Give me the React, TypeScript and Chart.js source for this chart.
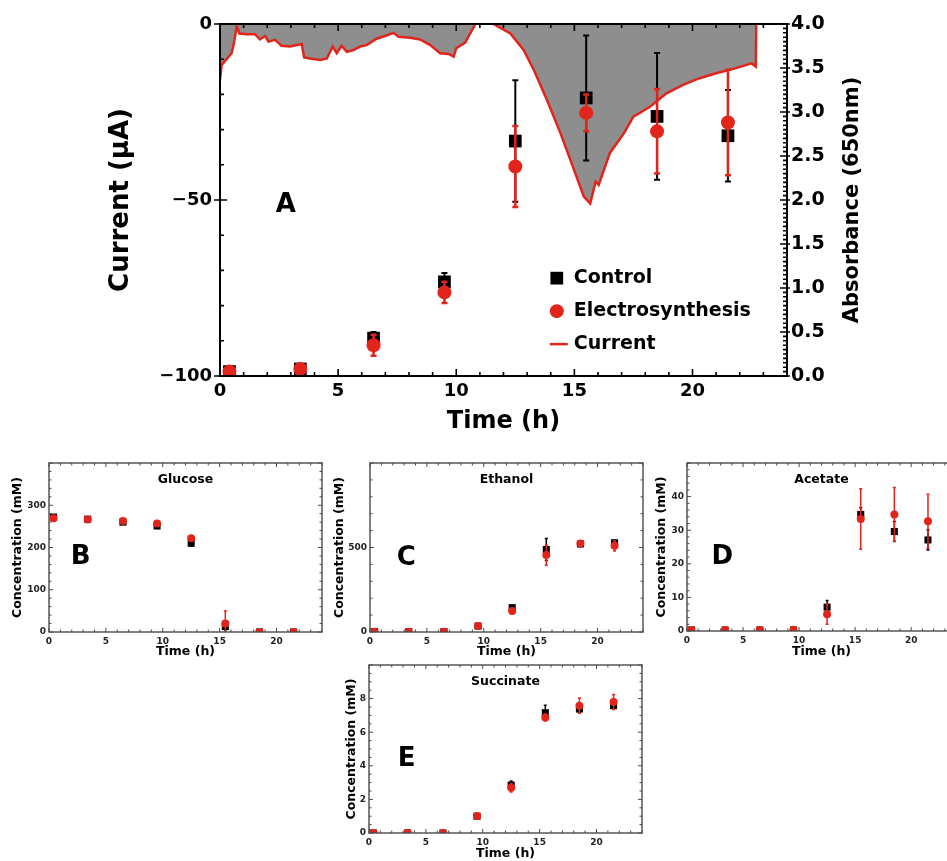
import React, { useEffect, useRef } from 'react';
import { Chart, registerables } from 'chart.js';

Chart.register(...registerables);

const FONT = "'DejaVu Sans', 'Liberation Sans', sans-serif";
const RED = '#e3241b';
const BLACK = '#000000';
const FILL_GRAY = '#8e8e8e';

// ---------- data ----------
const sampleTimes = [0.4, 3.4, 6.5, 9.5, 12.5, 15.5, 18.5, 21.5];
const timeTicks = [0, 5, 10, 15, 20];

// Panel A: current trace (µA)
const currentTime = [0, 0.07, 0.28, 0.49, 0.59, 0.71, 0.82, 1.13, 1.48, 1.69, 1.91, 2.05, 2.33, 2.61, 2.97, 3.46, 3.56, 3.81, 4.24, 4.52, 4.77, 4.94, 5.15, 5.37, 5.65, 5.93, 6.21, 6.64, 6.99, 7.34, 7.56, 8.05, 8.47, 8.9, 9.32, 9.68, 9.89, 10.0, 10.38, 10.81, 11.1, 11.4, 11.58, 12.29, 12.85, 13.28, 13.84, 14.41, 14.83, 15.4, 15.67, 15.9, 16.03, 16.5, 17.1, 17.5, 18.2, 18.9, 19.6, 20.3, 21.0, 21.8, 22.5, 22.68, 22.7];
const currentValue = [-16, -11.6, -10, -8.3, -5.5, -0.6, -2.7, -2.9, -2.9, -4.4, -3.4, -5, -4.5, -6.2, -6.4, -5.7, -9.5, -9.8, -10.2, -9.8, -6.4, -8.3, -6.2, -7.9, -7.4, -6.4, -6, -4.1, -3.4, -2.5, -3.6, -3.9, -4.4, -6, -8.3, -8.5, -9.3, -6.9, -5.3, 0, 1.5, 1.5, 0, -2.7, -7.4, -13, -21.6, -31, -38.6, -49, -51, -44.8, -45.7, -36.7, -31, -26.3, -23.5, -19.7, -17.3, -15.4, -14, -12.6, -11.2, -12.1, 0];
const currentTicks = [-100, -50, 0];

// Panel A: absorbance (650 nm)
const absControl = [0.05, 0.08, 0.43, 1.07, 2.67, 3.16, 2.95, 2.73];
const absControlErr = [0.02, 0.02, 0.07, 0.1, 0.69, 0.71, 0.72, 0.52];
const absElectro = [0.05, 0.08, 0.35, 0.95, 2.38, 2.99, 2.78, 2.88];
const absElectroErr = [0.02, 0.02, 0.12, 0.12, 0.46, 0.21, 0.48, 0.6];
const absTicks = [0, 0.5, 1, 1.5, 2, 2.5, 3, 3.5, 4];

// Panel B: glucose (mM)
const glucoseControl = [272, 267, 260, 251, 210, 13, 0, 0];
const glucoseControlErr = [4, 3, 4, 6, 6, 8, 1, 1];
const glucoseElectro = [269, 266, 263, 257, 222, 20, 0, 0];
const glucoseElectroErr = [4, 3, 4, 6, 5, 30, 1, 1];
const glucoseTicks = [0, 100, 200, 300];

// Panel C: ethanol (mM)
const ethanolControl = [2, 2, 2, 35, 144, 488, 521, 528];
const ethanolControlErr = [2, 2, 2, 5, 12, 65, 15, 15];
const ethanolElectro = [2, 2, 2, 36, 125, 455, 524, 510];
const ethanolElectroErr = [2, 2, 2, 5, 15, 60, 15, 30];
const ethanolTicks = [0, 500];

// Panel D: acetate (mM)
const acetateControl = [0.3, 0.3, 0.3, 0.3, 7.1, 34.7, 29.6, 27.1];
const acetateControlErr = [0.1, 0.1, 0.1, 0.1, 2, 2, 3, 3];
const acetateElectro = [0.3, 0.3, 0.3, 0.4, 5.0, 33.3, 34.7, 32.7];
const acetateElectroErr = [0.1, 0.1, 0.1, 0.1, 3, 9, 8, 8];
const acetateTicks = [0, 10, 20, 30, 40];

// Panel E: succinate (mM)
const succinateControl = [0, 0, 0, 1.0, 2.85, 7.16, 7.38, 7.58];
const succinateControlErr = [0.02, 0.02, 0.02, 0.08, 0.25, 0.45, 0.2, 0.2];
const succinateElectro = [0, 0, 0, 1.01, 2.69, 6.87, 7.58, 7.8];
const succinateElectroErr = [0.02, 0.02, 0.02, 0.08, 0.25, 0.2, 0.45, 0.45];
const succinateTicks = [0, 2, 4, 6, 8];

// ---------- helpers ----------
const pts = (xs: number[], ys: number[]) => xs.map((x, i) => ({ x, y: ys[i] }));
const fixedTicks = (vals: number[]) => (scale: any) => {
  scale.ticks = vals.map((v) => ({ value: v }));
};
const minusFmt = (v: any) => (Number(v) < 0 ? '\u2212' + Math.abs(Number(v)) : String(v));

// ---------- plugins ----------
const errorBarsPlugin = {
  id: 'errorBars',
  beforeDatasetDraw(chart: any, args: any) {
    const ds = chart.data.datasets[args.index];
    if (!ds.errors) return;
    const meta = args.meta;
    const xs = chart.scales[meta.xAxisID];
    const ys = chart.scales[meta.yAxisID];
    const ctx = chart.ctx;
    const a = chart.chartArea;
    ctx.save();
    ctx.beginPath();
    ctx.rect(a.left, a.top, a.right - a.left, a.bottom - a.top);
    ctx.clip();
    ctx.strokeStyle = ds.errorColor;
    ctx.lineWidth = ds.errorWidth;
    ctx.beginPath();
    ds.data.forEach((p: any, i: number) => {
      const e = ds.errors[i];
      if (!e) return;
      const x = xs.getPixelForValue(p.x);
      const lo = ys.getPixelForValue(p.y - e);
      const hi = ys.getPixelForValue(p.y + e);
      const c = ds.errorCap;
      ctx.moveTo(x, lo);
      ctx.lineTo(x, hi);
      ctx.moveTo(x - c, lo);
      ctx.lineTo(x + c, lo);
      ctx.moveTo(x - c, hi);
      ctx.lineTo(x + c, hi);
    });
    ctx.stroke();
    ctx.restore();
  },
};

function eachStep(scale: any, minor: number, major: number, cb: (p: number, isMajor: boolean) => void) {
  const n = Math.floor((scale.max - scale.min) / minor + 1e-6);
  for (let i = 0; i <= n; i++) {
    const v = scale.min + i * minor;
    const r = v / major;
    cb(scale.getPixelForValue(v), Math.abs(r - Math.round(r)) < 1e-6);
  }
}

const framePlugin = {
  id: 'frame',
  afterDatasetsDraw(chart: any, _args: any, o: any) {
    if (!o || !o.enabled) return;
    const { ctx, chartArea: a } = chart;
    ctx.save();
    ctx.strokeStyle = o.color;
    ctx.lineWidth = o.tickWidth;
    ctx.beginPath();
    eachStep(chart.scales.x, o.xMinor, o.xMajor, (px, maj) => {
      const L = maj ? o.majorLen : o.minorLen;
      ctx.moveTo(px, a.bottom);
      ctx.lineTo(px, a.bottom - L);
      ctx.moveTo(px, a.top);
      ctx.lineTo(px, a.top + L);
    });
    eachStep(chart.scales.y, o.leftMinor, o.leftMajor, (py, maj) => {
      const L = maj ? o.majorLen : o.minorLen;
      ctx.moveTo(a.left, py);
      ctx.lineTo(a.left + L, py);
      if (maj && o.outLen) {
        ctx.moveTo(a.left, py);
        ctx.lineTo(a.left - o.outLen, py);
      }
    });
    const rs = chart.scales[o.rightId];
    eachStep(rs, o.rightMinor, o.rightMajor, (py, maj) => {
      const L = maj ? o.majorLen : o.minorLen;
      ctx.moveTo(a.right, py);
      ctx.lineTo(a.right - L, py);
      if (maj && o.outLenRight) {
        ctx.moveTo(a.right, py);
        ctx.lineTo(a.right + o.outLenRight, py);
      }
    });
    ctx.stroke();
    ctx.lineWidth = o.width;
    ctx.strokeRect(a.left, a.top, a.right - a.left, a.bottom - a.top);
    ctx.restore();
  },
};

const annotatePlugin = {
  id: 'annotate',
  afterDraw(chart: any, _args: any, o: any) {
    if (!o) return;
    const { ctx, chartArea: a } = chart;
    const W = a.right - a.left;
    const H = a.bottom - a.top;
    const texts = o.texts || [];
    for (let i = 0; i < texts.length; i++) {
      const t = texts[i];
      ctx.save();
      ctx.font = t.font;
      ctx.fillStyle = t.color || '#000';
      ctx.textAlign = 'center';
      ctx.textBaseline = 'middle';
      ctx.translate(a.left + t.fx * W, a.top + t.fy * H);
      if (t.rotation) ctx.rotate((t.rotation * Math.PI) / 180);
      ctx.fillText(t.text, 0, 0);
      ctx.restore();
    }
    const L = o.legend;
    if (L) {
      const x = a.left + L.fx * W;
      let y = a.top + L.fy * H;
      chart.data.datasets.forEach((ds: any) => {
        ctx.save();
        if (ds.showLine !== false) {
          ctx.strokeStyle = ds.borderColor;
          ctx.lineWidth = ds.borderWidth;
          ctx.beginPath();
          ctx.moveTo(x + L.lineFrom, y);
          ctx.lineTo(x + L.lineTo, y);
          ctx.stroke();
        } else if (ds.pointStyle === 'rect') {
          const s = ds.pointRadius * Math.SQRT1_2;
          ctx.fillStyle = ds.pointBackgroundColor;
          ctx.fillRect(x - s, y - s, 2 * s, 2 * s);
        } else {
          ctx.fillStyle = ds.pointBackgroundColor;
          ctx.beginPath();
          ctx.arc(x, y, ds.pointRadius, 0, Math.PI * 2);
          ctx.fill();
        }
        ctx.font = L.font;
        ctx.fillStyle = '#000';
        ctx.textAlign = 'left';
        ctx.textBaseline = 'middle';
        ctx.fillText(ds.label, x + L.textGap, y);
        ctx.restore();
        y += L.rowGap;
      });
    }
  },
};

Chart.register(errorBarsPlugin as any, framePlugin as any, annotatePlugin as any);

// ---------- panel A ----------
function makeConfigA(): any {
  const tickFont = { family: FONT, size: 18, weight: 'bold' as const };
  return {
    type: 'line',
    data: {
      datasets: [
        {
          label: 'Control',
          data: pts(sampleTimes, absControl),
          yAxisID: 'y1',
          showLine: false,
          pointStyle: 'rect',
          pointRadius: 9,
          pointBackgroundColor: BLACK,
          pointBorderColor: BLACK,
          pointBorderWidth: 0,
          order: 1,
          errors: absControlErr,
          errorColor: BLACK,
          errorWidth: 2,
          errorCap: 3,
        },
        {
          label: 'Electrosynthesis',
          data: pts(sampleTimes, absElectro),
          yAxisID: 'y1',
          showLine: false,
          pointStyle: 'circle',
          pointRadius: 7,
          pointBackgroundColor: RED,
          pointBorderColor: RED,
          pointBorderWidth: 0,
          order: 0,
          errors: absElectroErr,
          errorColor: RED,
          errorWidth: 2.5,
          errorCap: 3,
        },
        {
          label: 'Current',
          data: pts(currentTime, currentValue),
          yAxisID: 'y',
          showLine: true,
          borderColor: RED,
          borderWidth: 2.5,
          backgroundColor: FILL_GRAY,
          fill: { value: 0 },
          pointRadius: 0,
          tension: 0,
          order: 2,
        },
      ],
    },
    options: {
      responsive: false,
      animation: false,
      layout: { padding: { top: 24, left: 0, right: 0, bottom: 0 } },
      plugins: {
        legend: { display: false },
        tooltip: { enabled: false },
        frame: {
          enabled: true,
          color: BLACK,
          width: 2,
          tickWidth: 1.6,
          majorLen: 7,
          minorLen: 4,
          outLen: 6,
          outLenRight: 3,
          xMinor: 1,
          xMajor: 5,
          leftMinor: 10,
          leftMajor: 50,
          rightId: 'y1',
          rightMinor: 0.05,
          rightMajor: 0.5,
        },
        annotate: {
          texts: [
            { text: 'A', fx: 0.116, fy: 0.514, font: `bold 26px ${FONT}` },
            { text: 'Absorbance (650nm)', fx: 1.115, fy: 0.5, rotation: -90, font: `bold 21px ${FONT}` },
          ],
          legend: { fx: 0.594, fy: 0.722, rowGap: 33, textGap: 17, lineFrom: -7, lineTo: 11, font: `bold 19px ${FONT}` },
        },
      },
      scales: {
        x: {
          type: 'linear',
          min: 0,
          max: 24,
          afterBuildTicks: fixedTicks(timeTicks),
          ticks: { font: tickFont, color: BLACK, padding: 5, maxRotation: 0, autoSkip: false },
          grid: { display: false, drawTicks: false },
          border: { display: false },
          title: { display: true, text: 'Time (h)', color: BLACK, font: { family: FONT, size: 24, weight: 'bold' }, padding: { top: 0, bottom: 14 } },
          afterFit: (s: any) => { s.height = 74; },
        },
        y: {
          type: 'linear',
          position: 'left',
          min: -100,
          max: 0,
          afterBuildTicks: fixedTicks(currentTicks),
          ticks: { font: tickFont, color: BLACK, padding: 8, callback: minusFmt, autoSkip: false },
          grid: { display: false, drawTicks: false },
          border: { display: false },
          title: { display: true, text: 'Current (\u03bcA)', color: BLACK, font: { family: FONT, size: 26, weight: 'bold' }, padding: { top: 106, bottom: 0 } },
          afterFit: (s: any) => { s.width = 220; },
        },
        y1: {
          type: 'linear',
          position: 'right',
          min: 0,
          max: 4,
          afterBuildTicks: fixedTicks(absTicks),
          ticks: { font: { family: FONT, size: 19, weight: 'bold' }, color: BLACK, padding: 4, autoSkip: false, callback: (v: any) => Number(v).toFixed(1) },
          grid: { display: false, drawTicks: false },
          border: { display: false },
          afterFit: (s: any) => { s.width = 160; },
        },
      },
    },
  };
}

// ---------- small panels ----------
interface SmallSpec {
  title: string;
  letter: string;
  control: number[];
  controlErr: number[];
  electro: number[];
  electroErr: number[];
  yMax: number;
  yTicks: number[];
  yMinor: number;
  yMajor: number;
  box: { left: number; top: number; width: number; height: number };
  yWidth: number;
  padTop: number;
  padRight: number;
  xHeight: number;
  yTitlePad: number;
  xTitlePad: number;
  letterPos: [number, number];
}

const smallSpecs: SmallSpec[] = [
  {
    title: 'Glucose', letter: 'B',
    control: glucoseControl, controlErr: glucoseControlErr, electro: glucoseElectro, electroErr: glucoseElectroErr,
    yMax: 400, yTicks: glucoseTicks, yMinor: 20, yMajor: 100,
    box: { left: 0, top: 450, width: 330, height: 210 },
    yWidth: 49, padTop: 13, padRight: 8, xHeight: 28, yTitlePad: 10.5, xTitlePad: 0.8,
    letterPos: [0.116, 0.56],
  },
  {
    title: 'Ethanol', letter: 'C',
    control: ethanolControl, controlErr: ethanolControlErr, electro: ethanolElectro, electroErr: ethanolElectroErr,
    yMax: 1000, yTicks: ethanolTicks, yMinor: 100, yMajor: 500,
    box: { left: 330, top: 450, width: 320, height: 210 },
    yWidth: 40, padTop: 13, padRight: 7, xHeight: 28, yTitlePad: 2.5, xTitlePad: 0.8,
    letterPos: [0.133, 0.564],
  },
  {
    title: 'Acetate', letter: 'D',
    control: acetateControl, controlErr: acetateControlErr, electro: acetateElectro, electroErr: acetateElectroErr,
    yMax: 50, yTicks: acetateTicks, yMinor: 2, yMajor: 10,
    box: { left: 640, top: 450, width: 330, height: 210 },
    yWidth: 47, padTop: 13, padRight: 14, xHeight: 29, yTitlePad: 14.2, xTitlePad: 0.8,
    letterPos: [0.131, 0.56],
  },
  {
    title: 'Succinate', letter: 'E',
    control: succinateControl, controlErr: succinateControlErr, electro: succinateElectro, electroErr: succinateElectroErr,
    yMax: 10, yTicks: succinateTicks, yMinor: 0.5, yMajor: 2,
    box: { left: 330, top: 655, width: 320, height: 206 },
    yWidth: 39, padTop: 10, padRight: 8, xHeight: 28, yTitlePad: 14.2, xTitlePad: 0.2,
    letterPos: [0.138, 0.561],
  },
];

function makeSmallConfig(s: SmallSpec): any {
  const tickFont = { family: FONT, size: 9, weight: 'bold' as const };
  const titleFont = { family: FONT, size: 12.5, weight: 'bold' as const };
  return {
    type: 'line',
    data: {
      datasets: [
        {
          label: 'Control',
          data: pts(sampleTimes, s.control),
          showLine: false,
          pointStyle: 'rect',
          pointRadius: 5,
          pointBackgroundColor: BLACK,
          pointBorderColor: BLACK,
          pointBorderWidth: 0,
          order: 1,
          errors: s.controlErr,
          errorColor: BLACK,
          errorWidth: 1.5,
          errorCap: 1.5,
        },
        {
          label: 'Electrosynthesis',
          data: pts(sampleTimes, s.electro),
          showLine: false,
          pointStyle: 'circle',
          pointRadius: 4,
          pointBackgroundColor: RED,
          pointBorderColor: RED,
          pointBorderWidth: 0,
          order: 0,
          errors: s.electroErr,
          errorColor: RED,
          errorWidth: 1.5,
          errorCap: 1.5,
        },
      ],
    },
    options: {
      responsive: false,
      animation: false,
      layout: { padding: { top: s.padTop, right: s.padRight, left: 0, bottom: 0 } },
      plugins: {
        legend: { display: false },
        tooltip: { enabled: false },
        frame: {
          enabled: true,
          color: '#4a4a4a',
          width: 1.4,
          tickWidth: 1,
          majorLen: 4,
          minorLen: 2.5,
          outLen: 0,
          outLenRight: 0,
          xMinor: 1,
          xMajor: 5,
          leftMinor: s.yMinor,
          leftMajor: s.yMajor,
          rightId: 'y',
          rightMinor: s.yMinor,
          rightMajor: s.yMajor,
        },
        annotate: {
          texts: [
            { text: s.title, fx: 0.5, fy: 0.1, font: `bold 12.5px ${FONT}` },
            { text: s.letter, fx: s.letterPos[0], fy: s.letterPos[1], font: `bold 26px ${FONT}` },
          ],
        },
      },
      scales: {
        x: {
          type: 'linear',
          min: 0,
          max: 24,
          afterBuildTicks: fixedTicks(timeTicks),
          ticks: { font: tickFont, color: '#222', padding: 4, maxRotation: 0, autoSkip: false },
          grid: { display: false, drawTicks: false },
          border: { display: false },
          title: { display: true, text: 'Time (h)', color: BLACK, font: titleFont, padding: { top: 0, bottom: s.xTitlePad } },
          afterFit: (sc: any) => { sc.height = s.xHeight; },
        },
        y: {
          type: 'linear',
          min: 0,
          max: s.yMax,
          afterBuildTicks: fixedTicks(s.yTicks),
          ticks: { font: tickFont, color: '#222', padding: 3, autoSkip: false },
          grid: { display: false, drawTicks: false },
          border: { display: false },
          title: { display: true, text: 'Concentration (mM)', color: BLACK, font: titleFont, padding: { top: s.yTitlePad, bottom: 0 } },
          afterFit: (sc: any) => { sc.width = s.yWidth; },
        },
      },
    },
  };
}

export default function App() {
  const refA = useRef<HTMLCanvasElement>(null);
  const ref0 = useRef<HTMLCanvasElement>(null);
  const ref1 = useRef<HTMLCanvasElement>(null);
  const ref2 = useRef<HTMLCanvasElement>(null);
  const ref3 = useRef<HTMLCanvasElement>(null);
  const smallRefs = [ref0, ref1, ref2, ref3];

  useEffect(() => {
    const charts: Chart[] = [];
    if (refA.current) charts.push(new Chart(refA.current, makeConfigA()));
    smallSpecs.forEach((s, i) => {
      const c = smallRefs[i].current;
      if (c) charts.push(new Chart(c, makeSmallConfig(s)));
    });
    return () => charts.forEach((c) => c.destroy());
  }, []);

  return (
    <div style={{ position: 'absolute', left: 0, top: 0, width: 947, height: 861, overflow: 'hidden', background: '#ffffff' }}>
      <canvas ref={refA} width={947} height={450} style={{ position: 'absolute', left: 0, top: 0, width: 947, height: 450 }} />
      {smallSpecs.map((s, i) => (
        <canvas
          key={s.letter}
          ref={smallRefs[i]}
          width={s.box.width}
          height={s.box.height}
          style={{ position: 'absolute', left: s.box.left, top: s.box.top, width: s.box.width, height: s.box.height }}
        />
      ))}
    </div>
  );
}
